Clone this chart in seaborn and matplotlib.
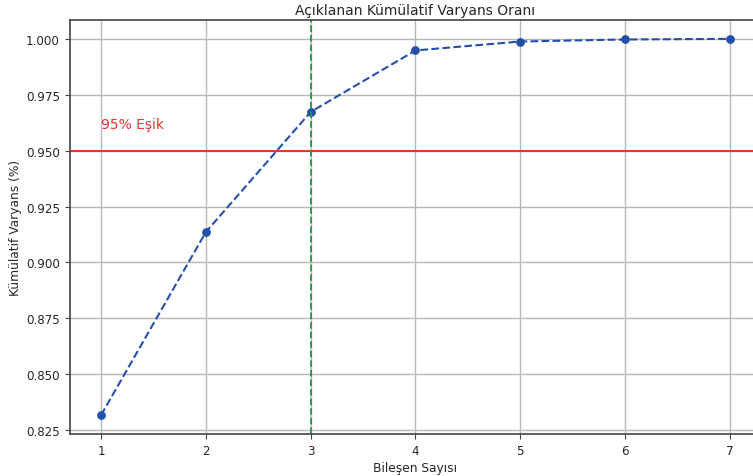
import numpy as np
import pandas as pd
import matplotlib
matplotlib.use("Agg")
import matplotlib.pyplot as plt
import seaborn as sns

components = [1, 2, 3, 4, 5, 6, 7]
cumulative_variance = [0.8317, 0.9136, 0.9673, 0.9948, 0.9988, 0.9997, 1.0]
threshold = 0.95
chosen_k = 3
title = "Açıklanan Kümülatif Varyans Oranı"
xlabel = "Bileşen Sayısı"
ylabel = "Kümülatif Varyans (%)"
threshold_label = "95% Eşik"

sns.set_style("ticks")
plt.rcParams['font.family'] = ['DejaVu Sans']

df = pd.DataFrame({"k": components, "v": cumulative_variance})

fig = plt.figure(figsize=(7.53, 4.77), dpi=100)
ax = fig.add_axes([69.6/753, 1-435/477, (761.4-69.6)/753, (435-21)/477])

sns.lineplot(data=df, x="k", y="v", ax=ax, marker="o", linestyle="--",
             color="#2550a8", linewidth=1.5, markersize=6.3, markeredgewidth=0)
ax.axhline(threshold, color="#ee2222", linewidth=1.3)
ax.axvline(chosen_k, color="#1e9a40", linestyle="--", linewidth=1.3)
ax.text(1, 0.96, threshold_label, color="#ee3333", fontsize=10)

ax.grid(True, color="#b8b8b8", linewidth=1.0)
ax.set_axisbelow(True)
for s in ax.spines.values():
    s.set_color("#444444")
    s.set_linewidth(1.2)
ax.set_title(title, fontsize=10, pad=4)
ax.set_xlabel(xlabel, fontsize=8.8, labelpad=3)
ax.set_ylabel(ylabel, fontsize=8.8, labelpad=3)
ax.tick_params(labelsize=8.6, color="#444444", length=3.5)
ax.margins(x=0.05, y=0.05)

fig.savefig("out.png", dpi=100)
